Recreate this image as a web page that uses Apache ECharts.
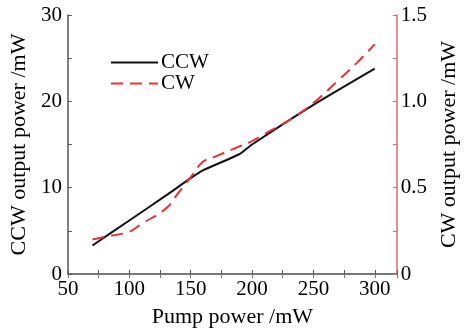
<!DOCTYPE html>
<html>
<head>
<meta charset="utf-8">
<script src="https://cdn.jsdelivr.net/npm/echarts@6/dist/echarts.min.js"></script>
<style>html,body{margin:0;padding:0;background:#fff;}#c{width:468px;height:333px;}</style>
</head>
<body>
<div id="c"></div>
<script>
var seriesNames = ['CCW', 'CW'];
var ccwData = [[70, 3.3], [100, 6.2], [130, 9.1], [150, 11.1], [160, 12.0], [190, 13.9], [200, 15.0], [250, 19.6], [300, 23.8]];
var cwData = [[70, 0.20], [80, 0.215], [100, 0.245], [110, 0.29], [130, 0.38], [140, 0.47], [150, 0.56], [160, 0.65], [170, 0.68], [190, 0.74], [200, 0.77], [210, 0.81], [230, 0.89], [250, 0.99], [270, 1.12], [285, 1.22], [300, 1.33]];
var xTicks = [50, 100, 150, 200, 250, 300];
var leftTicks = [0, 10, 20, 30];
var rightTicks = ['0', '0.5', '1.0', '1.5'];

var FONT = 'Liberation Serif';
var chart = echarts.init(document.getElementById('c'));
chart.setOption({
  animation: false,
  textStyle: {fontFamily: FONT},
  grid: {left: 59, right: 56, top: 15, bottom: 53},
  legend: {
    orient: 'vertical', left: 105, top: 47, itemWidth: 47, itemHeight: 14, itemGap: 0,
    textStyle: {fontFamily: FONT, fontSize: 21, color: '#000', padding: [0, 0, 0, -2]},
    itemStyle: {opacity: 0},
    data: seriesNames
  },
  xAxis: [{
    type: 'value', min: 50, max: 318, interval: 25,
    name: 'Pump power /mW', nameLocation: 'middle', nameGap: 32,
    nameTextStyle: {fontFamily: FONT, fontSize: 22, color: '#000'},
    axisLine: {lineStyle: {color: '#555', width: 1.5}},
    axisTick: {inside: true, length: 4, lineStyle: {color: '#555'}},
    splitLine: {show: false},
    axisLabel: {fontFamily: FONT, fontSize: 21, color: '#000', margin: 5,
      formatter: function (v) { return xTicks.indexOf(v) >= 0 ? String(v) : ''; }}
  }, {
    type: 'value', position: 'top', min: 50, max: 318, interval: 25,
    axisLine: {show: true, lineStyle: {color: '#777', width: 1.5}},
    axisTick: {inside: true, length: 4, lineStyle: {color: '#777'}},
    axisLabel: {show: false}, splitLine: {show: false}
  }],
  yAxis: [{
    type: 'value', min: 0, max: 30, interval: 5, position: 'left',
    name: 'CCW output power /mW', nameLocation: 'middle', nameGap: 32, nameRotate: 90,
    nameTextStyle: {fontFamily: FONT, fontSize: 22, color: '#000'},
    axisLine: {show: true, lineStyle: {color: '#555', width: 1.5}},
    axisTick: {show: true, inside: true, length: 4, lineStyle: {color: '#555'}},
    splitLine: {show: false},
    axisLabel: {fontFamily: FONT, fontSize: 21, color: '#000', margin: 6,
      formatter: function (v) { return leftTicks.indexOf(v) >= 0 ? String(v) : ''; }}
  }, {
    type: 'value', min: 0, max: 1.5, interval: 0.25, position: 'right',
    name: 'CW output power /mW', nameLocation: 'middle', nameGap: 36, nameRotate: 90,
    nameTextStyle: {fontFamily: FONT, fontSize: 22, color: '#000'},
    axisLine: {show: true, lineStyle: {color: '#e06a6a', width: 1.5}},
    axisTick: {show: true, inside: true, length: 4, lineStyle: {color: '#e06a6a'}},
    splitLine: {show: false},
    axisLabel: {fontFamily: FONT, fontSize: 21, color: '#000', margin: 4,
      formatter: function (v) {
        var i = [0, 0.5, 1, 1.5].indexOf(Math.round(v * 100) / 100);
        return i >= 0 ? rightTicks[i] : '';
      }}
  }],
  series: [{
    name: seriesNames[0], type: 'line', xAxisIndex: 0, yAxisIndex: 0,
    data: ccwData, symbol: 'none', smooth: 0.2,
    lineStyle: {color: '#111', width: 2}, itemStyle: {color: '#111'}
  }, {
    name: seriesNames[1], type: 'line', xAxisIndex: 0, yAxisIndex: 1,
    data: cwData, symbol: 'none', smooth: 0.4,
    lineStyle: {color: '#e8323a', width: 2, type: [12, 7]}, itemStyle: {color: '#e8323a'}
  }]
});
</script>
</body>
</html>
